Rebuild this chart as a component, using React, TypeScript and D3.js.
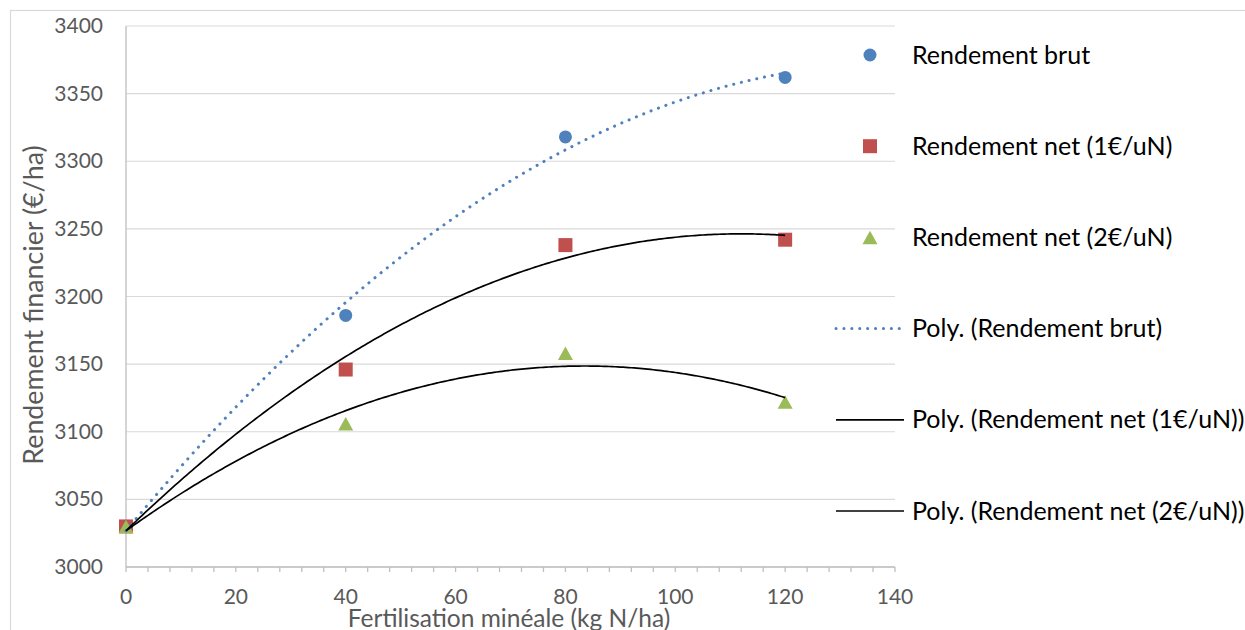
import React from "react";
import * as d3 from "d3";

// Nitrogen rates (kg N/ha) and financial yields (€/ha)
const doses = [0, 40, 80, 120];
const rendementBrut = [3030, 3186, 3318, 3362];
const rendementNet1 = [3030, 3146, 3238, 3242];
const rendementNet2 = [3030, 3106, 3158, 3122];

const xTicks = [0, 20, 40, 60, 80, 100, 120, 140];
const yTicks = [3000, 3050, 3100, 3150, 3200, 3250, 3300, 3350, 3400];

const legendLabels = [
  "Rendement brut",
  "Rendement net (1€/uN)",
  "Rendement net (2€/uN)",
  "Poly. (Rendement brut)",
  "Poly. (Rendement net (1€/uN))",
  "Poly. (Rendement net (2€/uN))",
];

const W = 1245;
const H = 630;
const BLUE = "#4F81BD";
const RED = "#C0504D";
const GREEN = "#9BBB59";
const FONT = "Lato, 'Open Sans', sans-serif";

// Least-squares fit of a second-order polynomial y = a + b x + c x^2
function quadFit(xs: number[], ys: number[]) {
  const s = [0, 0, 0, 0, 0];
  const t = [0, 0, 0];
  xs.forEach((x, i) => {
    for (let k = 0; k < 5; k++) s[k] += Math.pow(x, k);
    for (let k = 0; k < 3; k++) t[k] += ys[i] * Math.pow(x, k);
  });
  const m = [
    [s[0], s[1], s[2], t[0]],
    [s[1], s[2], s[3], t[1]],
    [s[2], s[3], s[4], t[2]],
  ];
  for (let i = 0; i < 3; i++) {
    for (let j = i + 1; j < 3; j++) {
      const f = m[j][i] / m[i][i];
      for (let k = i; k < 4; k++) m[j][k] -= f * m[i][k];
    }
  }
  const c = [0, 0, 0];
  for (let i = 2; i >= 0; i--) {
    let v = m[i][3];
    for (let k = i + 1; k < 3; k++) v -= m[i][k] * c[k];
    c[i] = v / m[i][i];
  }
  return (x: number) => c[0] + c[1] * x + c[2] * x * x;
}

export default function App() {
  const x = d3.scaleLinear().domain([0, 140]).range([126, 895]);
  const y = d3.scaleLinear().domain([3000, 3400]).range([567, 26]);

  const minorTicks = d3.range(0, 141, 4);
  const trendX = d3.range(0, 120.01, 0.5);
  const line = d3
    .line<number[]>()
    .x((d) => x(d[0]))
    .y((d) => y(d[1]));
  const trend = (vals: number[]) => {
    const f = quadFit(doses, vals);
    return line(trendX.map((v) => [v, f(v)])) || "";
  };

  const tri = (cx: number, cy: number, s: number) => {
    const h = s * 0.9;
    return `M${cx},${cy - h / 2}L${cx + s / 2},${cy + h / 2}L${cx - s / 2},${cy + h / 2}Z`;
  };

  const legendY = (i: number) => 55 + i * 91.2;

  return (
    <svg
      width={W}
      height={H}
      style={{ position: "fixed", left: 0, top: 0, background: "#fff" }}
      fontFamily={FONT}
    >
      <rect x={0} y={0} width={W} height={H} fill="#fff" />
      <rect x={10.5} y={10.5} width={1400} height={800} fill="none" stroke="#d9d9d9" strokeWidth={1.2} />

      {/* horizontal gridlines */}
      {yTicks.map((t) => (
        <line key={t} x1={x(0)} x2={x(140)} y1={y(t)} y2={y(t)} stroke="#d9d9d9" strokeWidth={1.2} />
      ))}

      {/* axes */}
      <line x1={x(0)} x2={x(0)} y1={y(3400)} y2={y(3000)} stroke="#bfbfbf" strokeWidth={1.3} />
      <line x1={x(0)} x2={x(140)} y1={y(3000)} y2={y(3000)} stroke="#bfbfbf" strokeWidth={1.3} />
      {minorTicks.map((t) => (
        <line key={t} x1={x(t)} x2={x(t)} y1={y(3000)} y2={y(3000) + 5} stroke="#bfbfbf" strokeWidth={1.3} />
      ))}

      {/* tick labels */}
      {yTicks.map((t) => (
        <text key={t} x={103} y={y(t) + 7} textAnchor="end" fontSize={21} fill="#595959">
          {t}
        </text>
      ))}
      {xTicks.map((t) => (
        <text key={t} x={x(t)} y={604} textAnchor="middle" fontSize={21} fill="#595959">
          {t}
        </text>
      ))}

      {/* axis titles */}
      <text x={509} y={627} textAnchor="middle" fontSize={24.5} fill="#595959">
        Fertilisation minéale (kg N/ha)
      </text>
      <text
        transform={`translate(43,305) rotate(-90)`}
        textAnchor="middle"
        fontSize={26.8}
        fill="#595959"
      >
        Rendement financier (€/ha)
      </text>

      {/* data markers */}
      {doses.map((d, i) => (
        <circle key={"b" + i} cx={x(d)} cy={y(rendementBrut[i])} r={6.5} fill={BLUE} />
      ))}
      {doses.map((d, i) => (
        <rect key={"r" + i} x={x(d) - 7} y={y(rendementNet1[i]) - 7} width={14} height={14} fill={RED} />
      ))}
      {doses.map((d, i) => (
        <path key={"g" + i} d={tri(x(d), y(rendementNet2[i]), 15)} fill={GREEN} />
      ))}

      {/* polynomial trendlines */}
      <path
        d={trend(rendementBrut)}
        fill="none"
        stroke={BLUE}
        strokeWidth={3}
        strokeDasharray="0.1 7.8"
        strokeLinecap="round"
      />
      <path d={trend(rendementNet1)} fill="none" stroke="#000" strokeWidth={1.7} />
      <path d={trend(rendementNet2)} fill="none" stroke="#000" strokeWidth={1.7} />

      {/* legend */}
      <circle cx={870} cy={legendY(0)} r={6.5} fill={BLUE} />
      <rect x={863} y={legendY(1) - 7} width={14} height={14} fill={RED} />
      <path d={tri(870, legendY(2), 15)} fill={GREEN} />
      <line
        x1={836}
        x2={904}
        y1={legendY(3)}
        y2={legendY(3)}
        stroke={BLUE}
        strokeWidth={3}
        strokeDasharray="0.1 7.8"
        strokeLinecap="round"
      />
      <line x1={836} x2={904} y1={legendY(4)} y2={legendY(4)} stroke="#000" strokeWidth={1.7} />
      <line x1={836} x2={904} y1={legendY(5)} y2={legendY(5)} stroke="#000" strokeWidth={1.7} />
      {legendLabels.map((l, i) => (
        <text key={l} x={912} y={legendY(i) + 8.5} fontSize={25} fill="#000">
          {l}
        </text>
      ))}
    </svg>
  );
}
